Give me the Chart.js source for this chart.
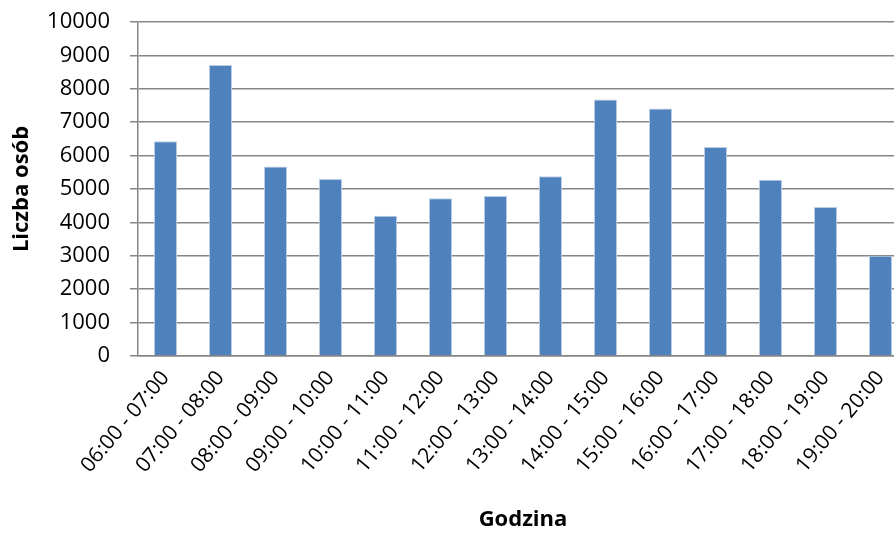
<!DOCTYPE html>
<html>
<head>
<meta charset="utf-8">
<script src="https://cdn.jsdelivr.net/npm/chart.js@4/dist/chart.umd.min.js"></script>
<style>
  html, body { margin: 0; padding: 0; background: #fff; overflow: hidden; width: 894px; height: 533px; }
  canvas { display: block; }
</style>
</head>
<body>
<canvas id="c" width="908" height="533"></canvas>
<script>
const categories = ["06:00 - 07:00","07:00 - 08:00","08:00 - 09:00","09:00 - 10:00","10:00 - 11:00","11:00 - 12:00","12:00 - 13:00","13:00 - 14:00","14:00 - 15:00","15:00 - 16:00","16:00 - 17:00","17:00 - 18:00","18:00 - 19:00","19:00 - 20:00"];
const values = [6430, 8710, 5670, 5300, 4200, 4720, 4790, 5380, 7680, 7410, 6260, 5280, 4460, 3000];
const yMin = 0, yMax = 10000, yStep = 1000;
const yTitle = "Liczba osób";
const xTitle = "Godzina";

const FONT = "'Open Sans', 'Liberation Sans', sans-serif";
new Chart(document.getElementById('c'), {
  type: 'bar',
  data: {
    labels: categories,
    datasets: [{
      data: values,
      backgroundColor: '#4F81BD',
      borderColor: '#b9cde5',
      borderWidth: 1,
      barPercentage: 0.42,
      categoryPercentage: 1.0
    }]
  },
  options: {
    responsive: false,
    animation: false,
    layout: { padding: { top: 22, right: 0, bottom: 0, left: 0 } },
    plugins: { legend: { display: false }, tooltip: { enabled: false } },
    scales: {
      x: {
        grid: { display: false },
        border: { display: true, color: '#868686', width: 1.5 },
        ticks: {
          color: '#000',
          font: { family: FONT, size: 21 },
          minRotation: 50, maxRotation: 50,
          autoSkip: false,
          padding: 2
        },
        title: {
          display: true, text: xTitle, color: '#000',
          font: { family: FONT, size: 22, weight: 'bold', lineHeight: 1.2 },
          padding: { top: 0, bottom: 0 }
        },
        afterFit: s => { s.height = 177; }
      },
      y: {
        min: yMin, max: yMax,
        grid: { color: '#868686', lineWidth: 1.5, drawTicks: true, tickLength: 8 },
        border: { display: true, color: '#868686', width: 1.5 },
        ticks: {
          stepSize: yStep,
          color: '#000',
          font: { family: FONT, size: 22 },
          padding: 20,
          callback: v => String(v)
        },
        title: {
          display: true, text: yTitle, color: '#000',
          font: { family: FONT, size: 22, weight: 'bold', lineHeight: 1.2 },
          padding: { top: 9, bottom: 0 }
        },
        afterFit: s => { s.width = 138; s.paddingTop = 0; s.paddingBottom = 0; }
      }
    }
  }
});
</script>
</body>
</html>
